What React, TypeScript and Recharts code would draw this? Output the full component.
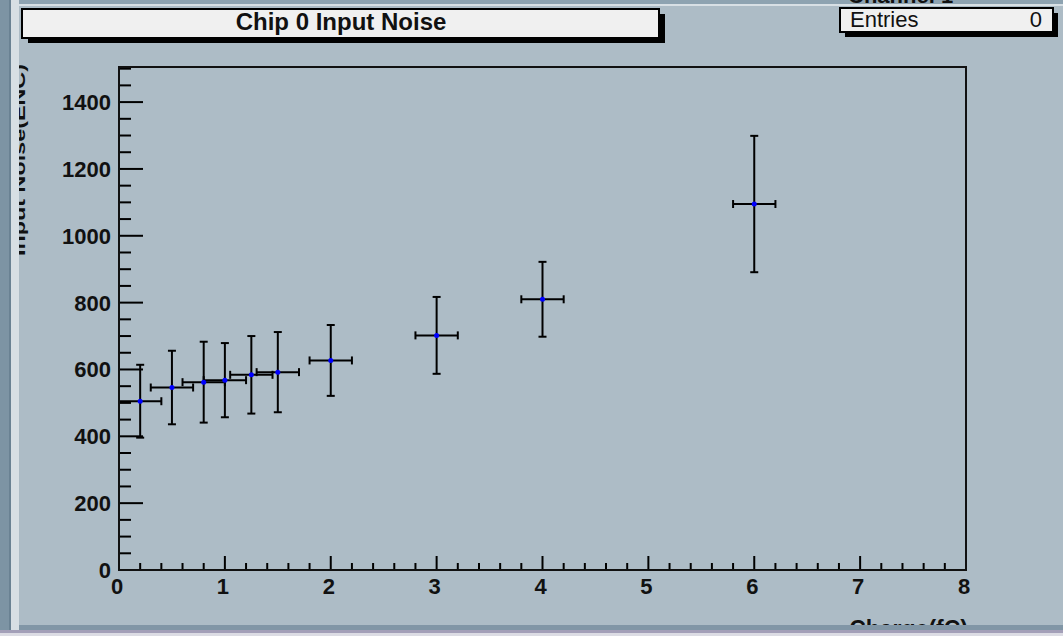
import React from 'react';
import { ScatterChart, Scatter, XAxis, YAxis, ErrorBar } from 'recharts';

// measured points: charge (fC) vs input noise (ENC)
const charge = [0.2, 0.5, 0.8, 1.0, 1.25, 1.5, 2, 3, 4, 6];
const chargeErr = [0.2, 0.2, 0.2, 0.2, 0.2, 0.2, 0.2, 0.2, 0.2, 0.2];
const noise = [505, 546, 562, 568, 584, 592, 627, 702, 810, 1095];
const noiseErr = [109, 110, 121, 111, 116, 120, 106, 115, 112, 204];

const xMajorTicks = [0, 1, 2, 3, 4, 5, 6, 7, 8];
const yMajorTicks = [0, 200, 400, 600, 800, 1000, 1200, 1400];

const titleText = 'Chip 0 Input Noise';
const xTitle = 'Charge(fC)';
const yTitle = 'Input Noise(ENC)';

const W = 1063;
const H = 636;
const BG = '#adbcc6';
const FONT = '"Liberation Sans", Arial, sans-serif';

const chartData = charge.map((c, i) => ({
    x: c,
    y: noise[i],
    ex: chargeErr[i],
    ey: noiseErr[i],
}));

// minor ticks (5 per major on x, 4 per major on y)
const xTicks: number[] = [];
for (let i = 0; i <= 40; i++) xTicks.push(Math.round(i * 0.2 * 10) / 10);
const yTicks: number[] = [];
for (let i = 0; i <= 30; i++) yTicks.push(i * 50);

const XTick = (props: any) => {
    const { x, y, payload } = props;
    const major = xMajorTicks.includes(payload.value);
    return (
        <g>
            <line x1={x} y1={y} x2={x} y2={y - (major ? 14 : 7)} stroke="#000" strokeWidth={2} />
            {major && (
                <text x={x - 2} y={y + 24} textAnchor="middle" fontSize={22} fontWeight="bold" fontFamily={FONT} fill="#111">
                    {payload.value}
                </text>
            )}
        </g>
    );
};

const YTick = (props: any) => {
    const { x, y, payload } = props;
    const major = yMajorTicks.includes(payload.value);
    return (
        <g>
            <line x1={x} y1={y} x2={x + (major ? 24 : 12)} y2={y} stroke="#000" strokeWidth={2} />
            {major && (
                <text x={x - 8} y={y + 8} textAnchor="end" fontSize={22} fontWeight="bold" fontFamily={FONT} fill="#111">
                    {payload.value}
                </text>
            )}
        </g>
    );
};

const Dot = (props: any) => <circle cx={props.cx} cy={props.cy} r={2.5} fill="#0000ff" />;

export default function App() {
    return (
        <div style={{ position: 'absolute', left: 0, top: 0, width: W, height: H, background: BG, overflow: 'hidden' }}>
            <ScatterChart width={W} height={H} margin={{ top: 67, right: 97, bottom: 36, left: 59 }}>
                <XAxis
                    type="number"
                    dataKey="x"
                    domain={[0, 8]}
                    ticks={xTicks}
                    interval={0}
                    height={30}
                    tickSize={0}
                    tickMargin={0}
                    tickLine={false}
                    axisLine={{ stroke: '#000', strokeWidth: 2 }}
                    tick={<XTick />}
                    allowDataOverflow
                />
                <YAxis
                    type="number"
                    dataKey="y"
                    domain={[0, 1505]}
                    ticks={yTicks}
                    interval={0}
                    width={60}
                    tickSize={0}
                    tickMargin={0}
                    tickLine={false}
                    axisLine={{ stroke: '#000', strokeWidth: 2 }}
                    tick={<YTick />}
                    allowDataOverflow
                />
                <Scatter data={chartData} shape={<Dot />} isAnimationActive={false}>
                    <ErrorBar dataKey="ex" direction="x" width={4} stroke="#000" strokeWidth={2} />
                    <ErrorBar dataKey="ey" direction="y" width={4} stroke="#000" strokeWidth={2} />
                </Scatter>
            </ScatterChart>

            <svg width={W} height={H} style={{ position: 'absolute', left: 0, top: 0, pointerEvents: 'none' }}>
                {/* plot frame */}
                <rect x={119} y={67} width={847} height={503} fill="none" stroke="#111" strokeWidth={2} />

                {/* axis titles */}
                <text
                    transform="translate(25, 64) rotate(-90)"
                    textAnchor="end"
                    fontSize={17}
                    fontWeight="bold"
                    fontFamily={FONT}
                    fill="#111"
                    textLength={192}
                    lengthAdjust="spacingAndGlyphs"
                >
                    {yTitle}
                </text>
                <text x={968} y={637} textAnchor="end" fontSize={23} fontWeight="bold" fontFamily={FONT} fill="#111">
                    {xTitle}
                </text>

                {/* canvas bevel */}
                <rect x={0} y={0} width={W} height={4} fill="#8ea3b1" />
                <rect x={0} y={4} width={W} height={2} fill="#d8e0e5" />
                <rect x={0} y={0} width={9} height={H} fill="#7d94a4" />
                <rect x={9} y={0} width={2} height={H} fill="#6a8293" />
                <rect x={11} y={0} width={8} height={H} fill="#d7dfe4" />
                <rect x={19} y={625} width={W} height={5} fill="#8196a6" />
                <rect x={0} y={630} width={W} height={3} fill="#a39fb8" />
                <rect x={0} y={633} width={W} height={3} fill="#dcdce4" />

                {/* title box */}
                <rect x={28} y={14} width={637} height={29} fill="#000" />
                <rect x={22} y={9} width={637} height={29} fill="#f0f0f0" stroke="#000" strokeWidth={2} />
                <text x={341} y={29.5} textAnchor="middle" fontSize={24} fontWeight="bold" fontFamily={FONT} fill="#111">
                    {titleText}
                </text>

                {/* stats box */}
                <text x={848} y={3} fontSize={22} fontWeight="bold" fontFamily={FONT} fill="#111">Channel 1</text>
                <rect x={845} y={13} width={213} height={24} fill="#000" />
                <rect x={840} y={8} width={213} height={24} fill="#f0f0f0" stroke="#000" strokeWidth={2} />
                <text x={850} y={27} fontSize={22} fontFamily={FONT} fill="#111">Entries</text>
                <text x={1042} y={27} textAnchor="end" fontSize={22} fontFamily={FONT} fill="#111">0</text>
            </svg>
        </div>
    );
}
